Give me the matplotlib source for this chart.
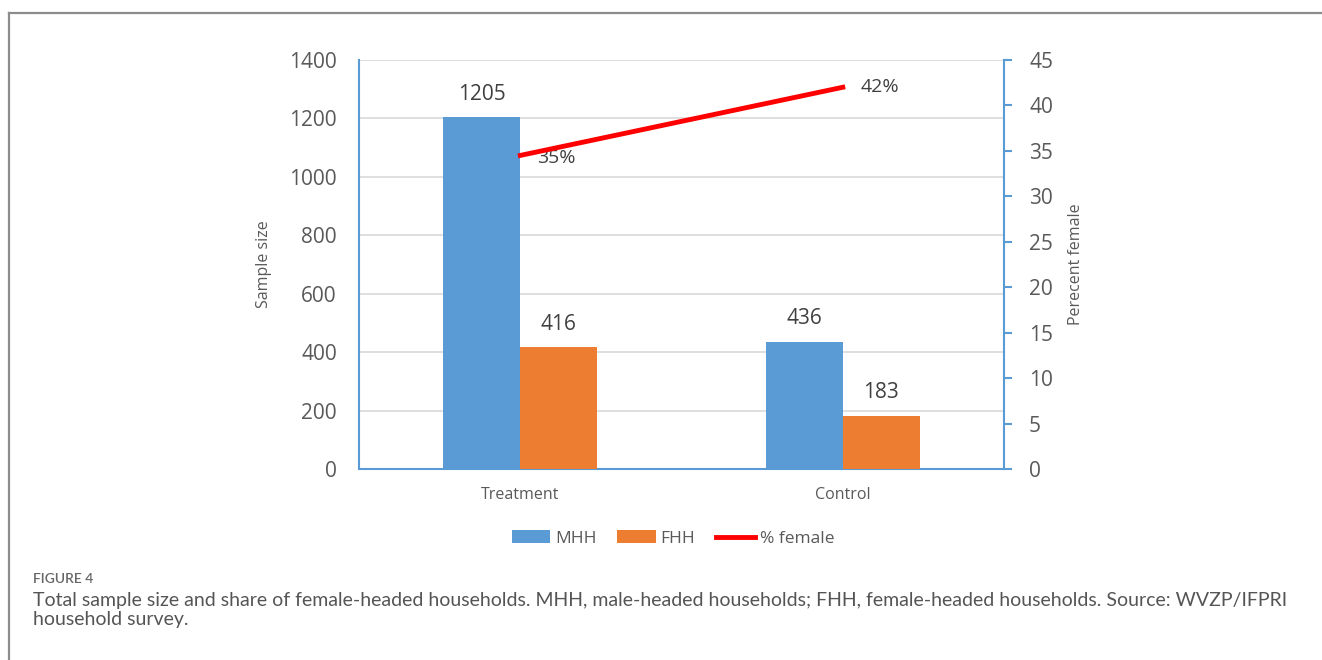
import matplotlib
matplotlib.use('Agg')
import matplotlib.pyplot as plt
from matplotlib.lines import Line2D
import numpy as np

###
#   Data
###
categories = ['Treatment', 'Control']
mhh = [1205, 436]
fhh = [416, 183]
pct_female = [34.5, 42.0]
pct_labels = ['35%', '42%']
left_ticks = [0, 200, 400, 600, 800, 1000, 1200, 1400]
right_ticks = [0, 5, 10, 15, 20, 25, 30, 35, 40, 45]

blue = '#5B9BD5'
orange = '#ED7D31'
red = '#FF0000'
grey_txt = '#595959'

plt.rcParams['font.family'] = ['Open Sans', 'DejaVu Sans']

fig = plt.figure(figsize=(13.22, 6.6), dpi=100)
ax = fig.add_axes([0.2716, 0.2894, 0.4879, 0.6197])

##
#   Bars
##
x = np.arange(len(categories))
w = 0.239
ax.bar(x - w / 2, mhh, w, color=blue, label='MHH', zorder=3)
ax.bar(x + w / 2, fhh, w, color=orange, label='FHH', zorder=3)
for i in range(len(categories)):
    ax.annotate(str(mhh[i]), (x[i] - w / 2, mhh[i]), xytext=(0, 16.5), textcoords='offset points',
                ha='center', va='center', fontsize=15, color='#404040')
    ax.annotate(str(fhh[i]), (x[i] + w / 2, fhh[i]), xytext=(0, 16.5), textcoords='offset points',
                ha='center', va='center', fontsize=15, color='#404040')

ax.set_xlim(-0.5, 1.5)
ax.set_ylim(0, 1400)
ax.set_yticks(left_ticks)
ax.set_xticks(x)
ax.set_xticklabels(categories)
ax.tick_params(axis='x', length=0, pad=13, labelsize=11.5, labelcolor=grey_txt)
ax.tick_params(axis='y', length=0, pad=16, labelsize=15, labelcolor=grey_txt)
ax.grid(axis='y', color='#D9D9D9', linewidth=1.2, zorder=0)
ax.set_axisbelow(True)
for s in ['top', 'right']:
    ax.spines[s].set_visible(False)
for s in ['left', 'bottom']:
    ax.spines[s].set_color(blue)
    ax.spines[s].set_linewidth(1.5)
ax.set_ylabel('Sample size', fontsize=11.5, color=grey_txt)
ax.yaxis.set_label_coords(-0.135, 0.5)

##
#   Percent female line
##
ax2 = ax.twinx()
ax2.plot(x, pct_female, color=red, linewidth=3.5, label='% female', zorder=4)
ax2.annotate(pct_labels[0], (x[0], pct_female[0]), xytext=(12, -2), textcoords='offset points',
             ha='left', va='center', fontsize=14, color='#404040')
ax2.annotate(pct_labels[1], (x[1], pct_female[1]), xytext=(13, 0), textcoords='offset points',
             ha='left', va='center', fontsize=14, color='#404040')
ax2.set_ylim(0, 45)
ax2.set_yticks(right_ticks)
ax2.tick_params(axis='y', direction='out', length=6, width=1.5, color=blue, pad=12,
                labelsize=15, labelcolor=grey_txt)
for s in ['top', 'left', 'bottom']:
    ax2.spines[s].set_visible(False)
ax2.spines['right'].set_color(blue)
ax2.spines['right'].set_linewidth(1.5)
ax2.set_ylabel('Perecent female', fontsize=11.5, color=grey_txt)
ax2.yaxis.set_label_coords(1.099, 0.5)

# legend under the chart
h1, l1 = ax.get_legend_handles_labels()
h2, l2 = ax2.get_legend_handles_labels()
leg = fig.legend(h1 + h2, l1 + l2, loc='center', bbox_to_anchor=(0.509, 0.184), ncol=3, frameon=False,
                 fontsize=12.5, handlelength=2.2, handleheight=0.75, handletextpad=0.3, columnspacing=1.2)
for t in leg.get_texts():
    t.set_color(grey_txt)

##
#   Caption and frame
##
fig.text(0.025, 1 - 579 / 660, 'FIGURE 4', fontsize=10, fontweight='semibold', color='#666666',
         ha='left', va='center', family=['Lato', 'DejaVu Sans'])
fig.text(0.025, 1 - 592 / 660,
         'Total sample size and share of female-headed households. MHH, male-headed households; '
         'FHH, female-headed households. Source: WVZP/IFPRI\nhousehold survey.',
         fontsize=14, color='#555555', ha='left', va='top', linespacing=1.15, family=['Lato', 'DejaVu Sans'])
fig.add_artist(Line2D([9 / 1322, 9 / 1322], [0, 1 - 13 / 660], color='#8C8C8C', linewidth=1.6))
fig.add_artist(Line2D([9 / 1322, 1], [1 - 13 / 660, 1 - 13 / 660], color='#8C8C8C', linewidth=1.6))

fig.savefig('out.png', dpi=100)
